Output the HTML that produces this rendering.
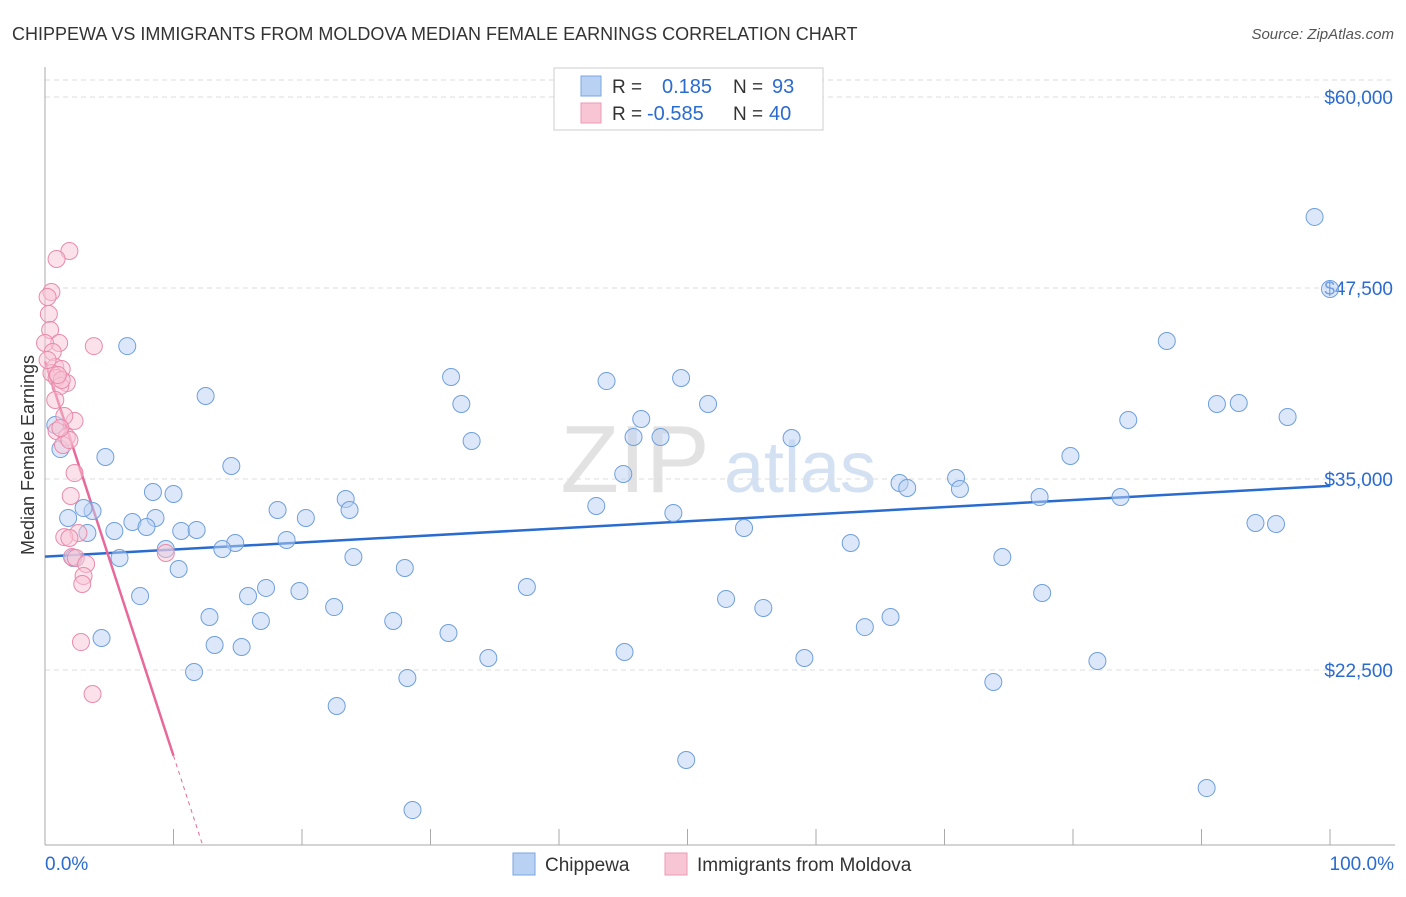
<!DOCTYPE html>
<html><head><meta charset="utf-8"><style>
body{margin:0;background:#fff;font-family:"Liberation Sans",sans-serif;}
svg text{font-family:"Liberation Sans",sans-serif;}
</style></head><body>
<svg id="chart" width="1406" height="892" xmlns="http://www.w3.org/2000/svg">
<text x="12" y="40" font-size="18" fill="#333">CHIPPEWA VS IMMIGRANTS FROM MOLDOVA MEDIAN FEMALE EARNINGS CORRELATION CHART</text>
<text x="1394" y="39" font-size="15" fill="#555" text-anchor="end" font-style="italic">Source: ZipAtlas.com</text>
<g>
<text x="635" y="492" font-size="96" fill="#e2e2e2" text-anchor="middle" font-family="Liberation Serif, serif">ZIP</text>
<text x="800" y="492" font-size="72" fill="#d4e1f3" text-anchor="middle">atlas</text>
</g>
<g id="grid"></g>
<g id="axes"></g>
<g id="lines"></g>
<g id="points"></g>
<text transform="translate(34,455) rotate(-90)" font-size="18" fill="#333" text-anchor="middle">Median Female Earnings</text>
<g>
<rect x="554" y="68" width="269" height="62" fill="#fff" stroke="#ccc"/>
<rect x="581" y="76" width="20" height="20" fill="#b9d2f3" stroke="#7aa5e0"/>
<rect x="581" y="103" width="20" height="20" fill="#f8c5d5" stroke="#ec9ab4"/>
<text x="612" y="93" font-size="19" fill="#333">R = </text><text x="662" y="93" font-size="20" fill="#2a6bd0">0.185</text>
<text x="733" y="93" font-size="19" fill="#333">N = </text><text x="772" y="93" font-size="20" fill="#2a6bd0">93</text>
<text x="612" y="120" font-size="19" fill="#333">R = </text><text x="647" y="120" font-size="20" fill="#2a6bd0">-0.585</text>
<text x="733" y="120" font-size="19" fill="#333">N = </text><text x="769" y="120" font-size="20" fill="#2a6bd0">40</text>
</g>
<g>
<rect x="513" y="853" width="22" height="22" fill="#b9d2f3" stroke="#7aa5e0"/>
<text x="545" y="871" font-size="19" fill="#333">Chippewa</text>
<rect x="665" y="853" width="22" height="22" fill="#f8c5d5" stroke="#ec9ab4"/>
<text x="697" y="871" font-size="19" fill="#333">Immigrants from Moldova</text>
</g>
</svg>
<script>
const yTicks=[22500,35000,47500,60000];
const yTickLabels=["$22,500","$35,000","$47,500","$60,000"];
const xTickLabels=["0.0%","100.0%"];
const blueX=[98.8,100,87.3,6.4,31.6,43.7,49.5,12.5,32.4,51.6,91.2,92.9,96.7,84.3,46.4,45.8,47.9,33.2,58.1,0.8,1.2,4.7,14.5,79.8,45.0,70.9,66.5,67.1,71.2,8.4,10.0,23.4,77.4,83.7,42.9,3.7,1.8,18.1,23.7,20.3,8.6,6.8,48.9,5.4,7.9,10.6,11.8,3.3,54.4,94.2,95.8,18.8,14.8,13.8,9.4,62.7,5.8,2.2,24.0,74.5,10.4,28.0,17.2,37.5,7.4,15.8,19.8,53.0,77.6,22.5,55.9,12.8,27.1,16.8,65.8,63.8,4.4,31.4,13.2,15.3,34.5,45.1,59.1,81.9,11.6,28.2,73.8,22.7,49.9,90.4,28.6,3.0];
const blueY=[52150,47435,44030,43700,41675,41410,41610,40430,39910,39910,39910,39975,39060,38860,38925,37750,37750,37490,37680,38530,36960,36440,35850,36505,35330,35065,34740,34410,34345,34150,34020,33690,33820,33820,33235,32905,32450,32970,32970,32450,32450,32185,32775,31600,31860,31600,31665,31465,31795,32120,32055,31010,30810,30420,30420,30810,29830,29830,29895,29895,29110,29175,27870,27930,27340,27340,27670,27150,27540,26620,26560,25970,25710,25710,25970,25310,24595,24920,24135,24005,23285,23680,23285,23090,22370,21975,21715,20145,16610,14775,13335,33100];
const pinkX=[1.9,0.9,0.5,0.2,0.3,0.4,1.1,3.8,0.0,0.6,0.8,1.3,0.5,1.7,0.9,1.2,0.8,2.3,1.5,0.9,1.7,1.4,2.3,2.0,2.6,1.5,1.9,2.1,2.4,3.2,3.0,2.9,9.4,2.8,3.7,1.3,1.0,0.2,1.9,1.2];
const pinkY=[49920,49400,47240,46910,45800,44750,43900,43700,43900,43310,42330,42200,41940,41280,41610,41085,40170,38800,39120,38140,37750,37225,35390,33890,31465,31200,31140,29895,29830,29440,28650,28130,30160,24330,20930,41480,41810,42790,37550,38340];
const NS='http://www.w3.org/2000/svg';
const X0=45,X1=1330,YB=845,Y60=97;
const xs=v=>X0+(X1-X0)*v/100;
const ys=v=>Y60+(60000-v)*(191/12500);
function mk(tag,attrs,parent){const e=document.createElementNS(NS,tag);for(const k in attrs)e.setAttribute(k,attrs[k]);document.getElementById(parent).appendChild(e);return e;}
// grid
const tg=mk('line',{x1:X0,x2:1395,y1:80,y2:80,stroke:'#ddd','stroke-dasharray':'5,4'},'grid');


yTicks.forEach((t,i)=>{
 const l=mk('line',{x1:X0,x2:1395,y1:ys(t),y2:ys(t),stroke:'#ddd','stroke-dasharray':'5,4'},'grid');
 
 
 const tx=mk('text',{x:1393,y:ys(t)+7,'font-size':19,fill:'#2a6bd0','text-anchor':'end'},'grid');
 tx.textContent=yTickLabels[i];
 
 
});
const ay=mk('line',{x1:X0,x2:X0,y1:67,y2:YB,stroke:'#aaa'},'axes');


const ax=mk('line',{x1:X0,x2:1395,y1:YB,y2:YB,stroke:'#aaa'},'axes');


for(let k=1;k<=10;k++){const t=mk('line',{x1:xs(k*10),x2:xs(k*10),y1:829,y2:YB,stroke:'#aaa'},'axes');
 
 }
[[0,'start',45],[100,'end',1394]].forEach((d,i)=>{const t=mk('text',{x:d[2],y:870,'font-size':19,fill:'#2a6bd0','text-anchor':d[1]},'axes');t.textContent=xTickLabels[i];
 
 });
function reg(X,Y){const n=X.length;let mx=0,my=0;for(let i=0;i<n;i++){mx+=X[i];my+=Y[i];}mx/=n;my/=n;let sxy=0,sxx=0;for(let i=0;i<n;i++){sxy+=(X[i]-mx)*(Y[i]-my);sxx+=(X[i]-mx)**2;}const b=sxy/sxx;return [my-b*mx,b];}
function dots(X,Y,fill,stroke,name){X.forEach((x,i)=>{const c=mk('circle',{cx:xs(x),cy:ys(Y[i]),r:8.5,fill:fill,stroke:stroke,'stroke-width':1,'fill-opacity':0.5},'points');
 
 });}
dots(blueX,blueY,'#b9d2f3','#6f9fdc','chippewa-point');
dots(pinkX,pinkY,'#f8c5d5','#e98aab','moldova-point');
const [ba,bb]=reg(blueX,blueY);
const bl=mk('line',{x1:xs(0),y1:ys(ba),x2:xs(100),y2:ys(ba+bb*100),stroke:'#2a6bd0','stroke-width':2.5},'lines');


const [pa,pb]=reg(pinkX,pinkY);
const xEnd=10,yBottom=60000-(YB-Y60)*12500/191;
const xB=(yBottom-pa)/pb;
const pl=mk('line',{x1:xs(0),y1:ys(pa),x2:xs(xEnd),y2:ys(pa+pb*xEnd),stroke:'#e8689a','stroke-width':2.5},'lines');


const pd=mk('line',{x1:xs(xEnd),y1:ys(pa+pb*xEnd),x2:xs(xB),y2:YB,stroke:'#e8689a','stroke-width':1,'stroke-dasharray':'4,4'},'lines');


</script>
</body></html>
